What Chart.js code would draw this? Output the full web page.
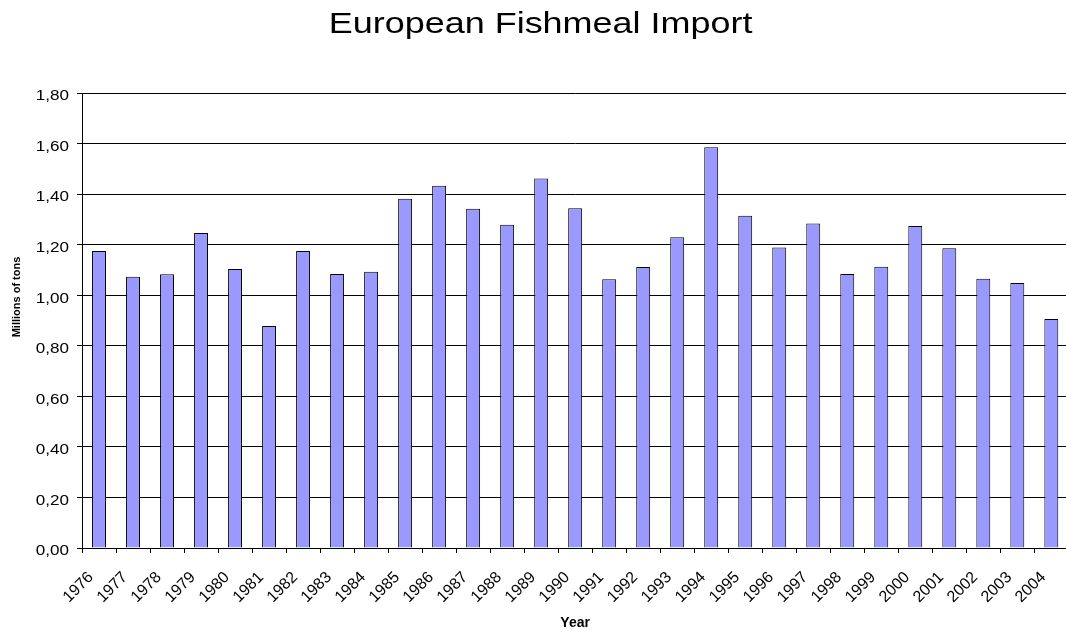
<!DOCTYPE html>
<html>
<head>
<meta charset="utf-8">
<script src="https://cdn.jsdelivr.net/npm/chart.js@4"></script>
<style>
html,body{margin:0;padding:0;background:#fff;overflow:hidden;}
#wrap{width:1066px;height:632px;overflow:hidden;}
canvas{display:block;}
</style>
</head>
<body>
<div id="wrap"><canvas id="c" width="1080" height="632" style="width:1080px;height:632px"></canvas></div>
<script>
const years = ['1976','1977','1978','1979','1980','1981','1982','1983','1984','1985','1986','1987','1988','1989','1990','1991','1992','1993','1994','1995','1996','1997','1998','1999','2000','2001','2002','2003','2004'];
const imports = [1.175,1.073,1.083,1.246,1.104,0.878,1.175,1.084,1.093,1.382,1.433,1.342,1.279,1.462,1.344,1.063,1.112,1.229,1.585,1.314,1.189,1.284,1.084,1.113,1.274,1.186,1.065,1.048,0.906];
const titleText = 'European Fishmeal Import';
const yTitle = 'Millions of tons';
const xTitle = 'Year';
const FONT = "'Liberation Sans', Arial, sans-serif";
const fmt = (v) => Number(v).toFixed(2).replace('.', ',');

const textPlugin = {
  id: 'texts',
  afterDraw(chart) {
    const ctx = chart.ctx;
    // main title (horizontally widened like the original)
    ctx.save();
    ctx.fillStyle = '#000';
    ctx.font = "29px " + FONT;
    ctx.textAlign = 'center';
    ctx.textBaseline = 'alphabetic';
    ctx.translate(540.6, 33.3);
    ctx.scale(1.24, 1);
    ctx.fillText(titleText, 0, 0);
    ctx.restore();
    // y tick labels from the library's scale
    const ys = chart.scales.y;
    ys.ticks.forEach(t => {
      const py = ys.getPixelForValue(t.value);
      ctx.save();
      ctx.fillStyle = '#000';
      ctx.font = "14px " + FONT;
      ctx.textAlign = 'right';
      ctx.textBaseline = 'alphabetic';
      ctx.translate(69, py + 7.3);
      ctx.scale(1.22, 1);
      ctx.fillText(fmt(t.value), 0, 0);
      ctx.restore();
    });
    // y axis title
    ctx.save();
    ctx.translate(17, 297);
    ctx.rotate(-Math.PI / 2);
    ctx.font = "bold 11px " + FONT;
    ctx.fillStyle = '#000';
    ctx.textAlign = 'center';
    ctx.textBaseline = 'middle';
    ctx.fillText(yTitle, 0, 0);
    ctx.restore();
  }
};

new Chart(document.getElementById('c'), {
  type: 'bar',
  data: {
    labels: years,
    datasets: [{
      data: imports,
      backgroundColor: '#9999FF',
      borderColor: '#000',
      borderWidth: 1,
      barPercentage: 0.41,
      categoryPercentage: 1.0
    }]
  },
  options: {
    responsive: false,
    devicePixelRatio: 1,
    animation: false,
    layout: { padding: { left: 0, right: 6, top: 93, bottom: 0 } },
    plugins: {
      legend: { display: false },
      tooltip: { enabled: false },
      title: { display: false }
    },
    scales: {
      x: {
        grid: { drawOnChartArea: false, drawTicks: true, tickLength: 5, color: '#000', offset: true },
        border: { color: '#000', width: 1 },
        ticks: { color: '#000', font: { family: FONT, size: 16 }, minRotation: 45, maxRotation: 45, autoSkip: false, padding: 15, labelOffset: -8 },
        title: { display: true, text: xTitle, color: '#000', font: { family: FONT, size: 14, weight: 'bold' }, padding: { top: 0, bottom: 0 } },
        afterFit(s) { s.height = 84; }
      },
      y: {
        min: 0,
        max: 1.8,
        grid: { color: '#000', tickLength: 5, drawTicks: true },
        border: { color: '#000', width: 1 },
        ticks: { stepSize: 0.2, display: false, callback: fmt },
        afterFit(s) { s.width = 82; }
      }
    }
  },
  plugins: [textPlugin]
});
</script>
</body>
</html>
